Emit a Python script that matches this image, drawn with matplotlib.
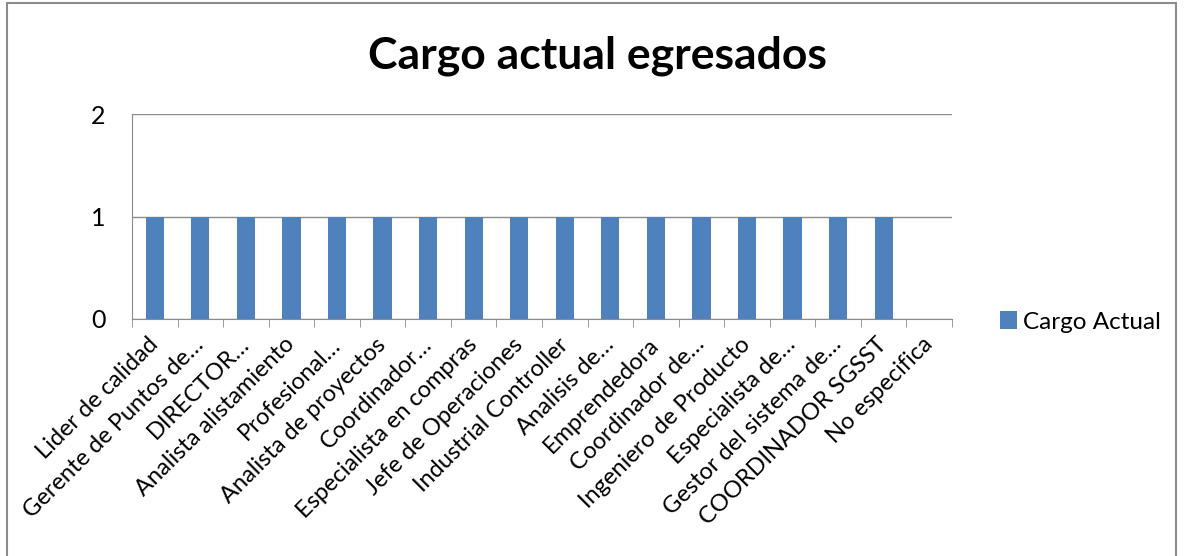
import matplotlib
matplotlib.use("Agg")
import matplotlib.pyplot as plt
from matplotlib.patches import Rectangle

categories = ["Lider de calidad", "Gerente de Puntos de…", "DIRECTOR…", "Analista alistamiento",
              "Profesional…", "Analista de proyectos", "Coordinador…", "Especialista en compras",
              "Jefe de Operaciones", "Industrial Controller", "Analisis de…", "Emprendedora",
              "Coordinador de…", "Ingeniero de Producto", "Especialista de…", "Gestor del sistema de…",
              "COORDINADOR SGSST", "No especifica"]
values = [1, 1, 1, 1, 1, 1, 1, 1, 1, 1, 1, 1, 1, 1, 1, 1, 1, 0]
y_ticks = [0, 1, 2]
series_name = "Cargo Actual"
title = "Cargo actual egresados"

plt.rcParams['font.family'] = ['Lato', 'DejaVu Sans']

W, H = 1186, 556
fig = plt.figure(figsize=(W / 100, H / 100), dpi=100)
ax = fig.add_axes([132 / W, 1 - 319 / H, (952 - 132) / W, (319 - 114) / H])

x = list(range(len(categories)))
ax.bar(x, values, width=0.4, color="#4F81BD", label=series_name, zorder=3)
ax.set_xlim(-0.5, len(categories) - 0.5)
ax.set_ylim(0, 2)
ax.set_yticks(y_ticks)
ax.set_yticklabels([str(v) for v in y_ticks], fontsize=18)
ax.yaxis.grid(True, color="#8C8C8C", linewidth=1, zorder=0)
for s in ["top", "right"]:
    ax.spines[s].set_visible(False)
for s in ["left", "bottom"]:
    ax.spines[s].set_color("#8C8C8C")
ax.tick_params(axis="y", length=0, pad=19)
ax.set_xticks([i - 0.5 for i in range(len(categories) + 1)], minor=True)
ax.tick_params(axis="x", which="minor", length=6, color="#8C8C8C", direction="out")
ax.set_xticks(x)
ax.tick_params(axis="x", which="major", length=0, pad=16)
ax.set_xticklabels(categories, rotation=45, ha="right", va="center", rotation_mode="anchor", fontsize=17)

fig.text(597 / W, 1 - 56 / H, title, ha="center", va="center", fontsize=32, fontweight="bold")

leg = ax.legend(loc="center left", bbox_to_anchor=(978 / W, 1 - 322 / H), bbox_transform=fig.transFigure,
                frameon=False, fontsize=17.5, handlelength=0.7, handleheight=0.7, handletextpad=0.25)

fig.patches.append(Rectangle((7 / W, -0.1), (1176 - 7) / W, (1 - 3 / H) + 0.1, transform=fig.transFigure,
                             fill=False, edgecolor="#8C8C8C", linewidth=1.5))

fig.savefig("out.png", dpi=100)
